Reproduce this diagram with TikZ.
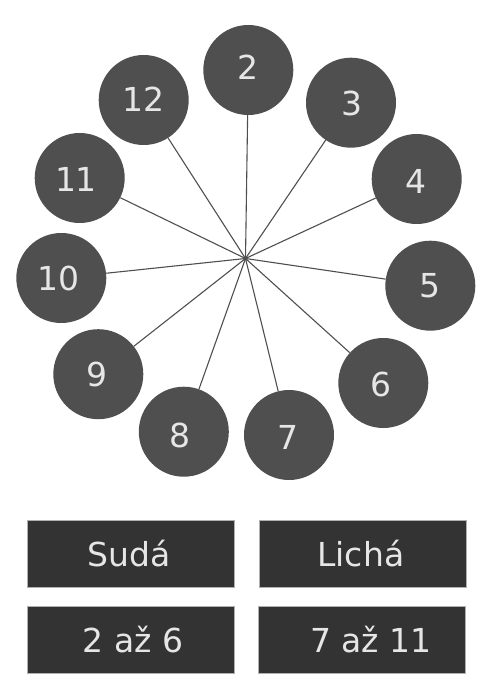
\documentclass[tikz,border=0pt]{standalone}
\usepackage{fontspec}
\setmainfont{DejaVu Sans}
\definecolor{circfill}{HTML}{4F4F4F}
\definecolor{boxfill}{HTML}{333333}
\definecolor{txt}{HTML}{E6E6E6}
\definecolor{boxedge}{HTML}{B0B0B0}
\definecolor{spoke}{HTML}{4F4F4F}
\begin{document}
\begin{tikzpicture}[x=1pt,y=-1pt,
  numcirc/.style={circle,fill=circfill,minimum size=90pt,inner sep=0pt},
  numtxt/.style={text=txt,inner sep=0pt,font=\fontsize{33}{33}\selectfont},
  labelbox/.style={rectangle,fill=boxfill,draw=boxedge,line width=0.8pt,minimum width=207pt,
    minimum height=67pt,inner sep=0pt},
  spokeline/.style={draw=spoke,line width=1.1pt}]
\useasboundingbox (0,0) rectangle (495,700);
\coordinate (hub) at (245.5,258.5);
\node[numcirc,label={[numtxt,yshift=2.5pt]center:2}] (c2) at (248.3,70) {};
\node[numcirc,label={[numtxt,xshift=0.7pt,yshift=-0.6pt]center:3}] (c3) at (351,102.7) {};
\node[numcirc,label={[numtxt,xshift=-1pt,yshift=-2pt]center:4}] (c4) at (416.7,179) {};
\node[numcirc,label={[numtxt]center:5}] (c5) at (430.3,285.7) {};
\node[numcirc,label={[numtxt,xshift=-2.3pt,yshift=-1pt]center:6}] (c6) at (383.3,383) {};
\node[numcirc,label={[numtxt,xshift=-1.3pt,yshift=-2pt]center:7}] (c7) at (289,435) {};
\node[numcirc,label={[numtxt,xshift=-4.2pt,yshift=-3.6pt]center:8}] (c8) at (183.8,431.7) {};
\node[numcirc,label={[numtxt,xshift=-1.6pt]center:9}] (c9) at (98.3,374.2) {};
\node[numcirc,label={[numtxt,xshift=-3.1pt]center:10}] (c10) at (61.3,278) {};
\node[numcirc,label={[numtxt,xshift=-3.7pt,yshift=-1pt]center:11}] (c11) at (79.7,178) {};
\node[numcirc,label={[numtxt,xshift=-0.4pt,yshift=0.8pt]center:12}] (c12) at (143.7,100) {};
\foreach \n in {2,...,12} \draw[spokeline] (hub) -- (c\n);
\fill[spoke] (hub) circle (2pt);
\node[labelbox,label={[numtxt,xshift=-1.5pt]center:Sudá}] (suda) at (131,554) {};
\node[labelbox,label={[numtxt,xshift=-2.4pt]center:Lichá}] (licha) at (363.2,554) {};
\node[labelbox,label={[numtxt,xshift=2pt]center:2 až 6}] (rng1) at (131,639.6) {};
\node[labelbox,label={[numtxt,xshift=8.6pt]center:7 až 11}] (rng2) at (362.2,639.6) {};
\end{tikzpicture}
\end{document}
